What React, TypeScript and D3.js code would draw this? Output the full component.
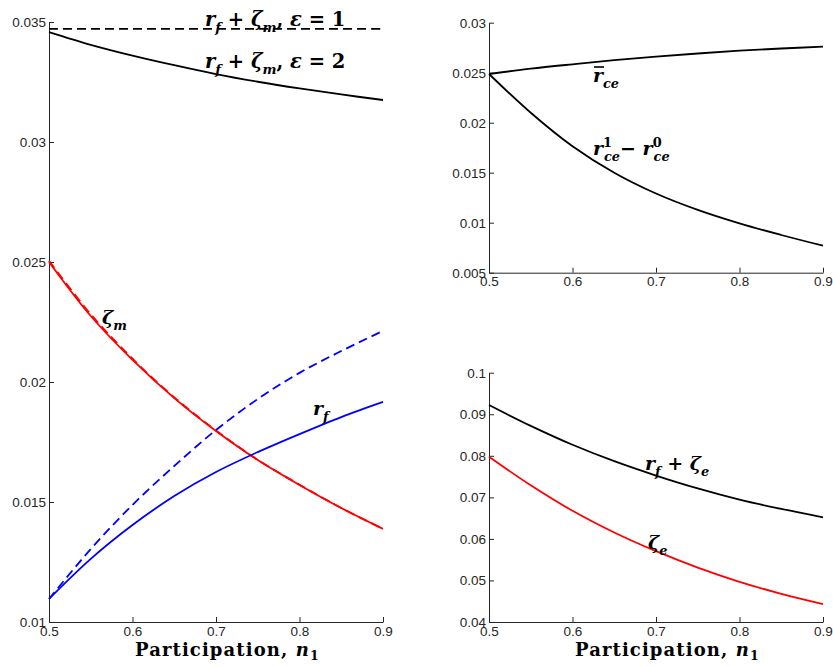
import React, {useEffect, useRef} from 'react'
import * as d3 from 'd3'

// participation grid
const n1 = [0.5, 0.55, 0.6, 0.65, 0.7, 0.75, 0.8, 0.85, 0.9]

// left panel
const rfZetaMEps1 = [0.03471, 0.03471, 0.03471, 0.03471, 0.03471, 0.03471, 0.03471, 0.03471, 0.03471]
const rfZetaMEps2 = [0.03458, 0.03405, 0.0336, 0.0332, 0.03283, 0.03251, 0.03223, 0.03198, 0.03175]
const zetaM = [0.025, 0.02275, 0.02092, 0.01933, 0.01796, 0.01675, 0.01571, 0.01475, 0.01388]
const zetaMEps1 = [0.02505, 0.02282, 0.02097, 0.01936, 0.01798, 0.01676, 0.01572, 0.01475, 0.01388]
const rf = [0.01096, 0.01263, 0.01404, 0.01525, 0.01625, 0.01708, 0.01783, 0.01854, 0.01917]
const rfEps1 = [0.01096, 0.01304, 0.01488, 0.0165, 0.018, 0.01929, 0.02038, 0.02129, 0.02213]

// right top
const rceBar = [0.02487, 0.0254, 0.02584, 0.02625, 0.0266, 0.02692, 0.0272, 0.02742, 0.0276]
const rceDiff = [0.02487, 0.021, 0.01765, 0.015, 0.01292, 0.01128, 0.00993, 0.00877, 0.0077]

// right bottom
const rfZetaE = [0.09223, 0.0872, 0.08265, 0.0787, 0.07525, 0.07215, 0.06945, 0.0672, 0.0652]
const zetaE = [0.07978, 0.0729, 0.06676, 0.06154, 0.05704, 0.05309, 0.04967, 0.04679, 0.04433]

const xTicks = [0.5, 0.6, 0.7, 0.8, 0.9]
const leftTicks = [0.01, 0.015, 0.02, 0.025, 0.03, 0.035]
const topTicks = [0.005, 0.01, 0.015, 0.02, 0.025, 0.03]
const bottomTicks = [0.04, 0.05, 0.06, 0.07, 0.08, 0.09, 0.1]

const AX = '#262626'
const TICK_FONT = '"Liberation Sans", Arial, sans-serif'
const MATH_FONT = '"DejaVu Serif", serif'

type Part = {t: string, i?: boolean, sub?: string, sup?: string}

// builds a math-ish label out of tspans, carrying baseline shifts to the next piece
function mathLabel(g: any, x: number, y: number, parts: Part[], size = 19) {
    const text = g.append('text')
        .attr('x', x).attr('y', y)
        .attr('font-family', MATH_FONT)
        .attr('font-weight', 'bold')
        .attr('font-size', size)
        .attr('fill', '#000')
    const small = size * 0.68
    let pending = 0
    parts.forEach(p => {
        text.append('tspan')
            .attr('font-style', p.i ? 'italic' : 'normal')
            .attr('dy', pending || null)
            .text(p.t)
        pending = 0
        if (p.sup) {
            text.append('tspan').attr('font-size', small).attr('dy', -size * 0.42).text(p.sup)
            text.append('tspan').attr('font-size', small).attr('font-style', 'italic')
                .attr('dx', -small * 0.62).attr('dy', size * 0.72).text(p.sub)
            pending = -size * 0.3
        } else if (p.sub) {
            text.append('tspan').attr('font-size', small).attr('font-style', 'italic')
                .attr('dy', size * 0.3).text(p.sub)
            pending = -size * 0.3
        }
    })
    return text
}

export default function App() {
    const svgRef = useRef(null)

    useEffect(() => {
        const svg = d3.select(svgRef.current)
        svg.selectAll('*').remove()

        const panels = [
            {x0: 49, x1: 383, y0: 622, y1: 22, dom: [0.01, 0.035], ticks: leftTicks},
            {x0: 489, x1: 823, y0: 272.7, y1: 22.7, dom: [0.005, 0.03], ticks: topTicks},
            {x0: 489, x1: 823, y0: 622, y1: 372.7, dom: [0.04, 0.1], ticks: bottomTicks},
        ]
        const scales = panels.map(p => ({
            x: d3.scaleLinear().domain([0.5, 0.9]).range([p.x0, p.x1]),
            y: d3.scaleLinear().domain(p.dom).range([p.y0, p.y1]),
        }))

        // axes, ticks pointing inward like matlab
        panels.forEach((p, k) => {
            const {x, y} = scales[k]
            const ga = svg.append('g').attr('transform', `translate(${p.x0},0)`)
                .call(d3.axisLeft(y).tickValues(p.ticks).tickSize(-5).tickSizeOuter(0).tickPadding(3)
                    .tickFormat((d: any) => String(d)))
            const gb = svg.append('g').attr('transform', `translate(0,${p.y0})`)
                .call(d3.axisBottom(x).tickValues(xTicks).tickSize(-5).tickSizeOuter(0).tickPadding(4)
                    .tickFormat((d: any) => String(d)))
            ;[ga, gb].forEach(g => {
                g.selectAll('path, line').attr('stroke', AX).attr('stroke-width', 1)
                g.selectAll('text').attr('fill', AX).attr('font-family', TICK_FONT).attr('font-size', 13.5)
            })
        })

        const draw = (k: number, vals: number[], color: string, dash?: string) => {
            const {x, y} = scales[k]
            const line = d3.line<number>()
                .x((_, i) => x(n1[i]))
                .y(d => y(d))
                .curve(d3.curveCatmullRom.alpha(0.5))
            svg.append('path')
                .attr('d', line(vals))
                .attr('fill', 'none')
                .attr('stroke', color)
                .attr('stroke-width', 1.8)
                .attr('stroke-dasharray', dash || null)
        }

        draw(0, rfZetaMEps1, '#000', '9,5')
        draw(0, rfZetaMEps2, '#000')
        draw(0, zetaMEps1, '#ff0000', '9,5')
        draw(0, zetaM, '#ff0000')
        draw(0, rfEps1, '#0000ff', '9,5')
        draw(0, rf, '#0000ff')
        draw(1, rceBar, '#000')
        draw(1, rceDiff, '#000')
        draw(2, rfZetaE, '#000')
        draw(2, zetaE, '#ff0000')

        const lab = svg.append('g')
        mathLabel(lab, 205, 26, [{t: 'r', i: true, sub: 'f'}, {t: ' + '}, {t: 'ζ', i: true, sub: 'm'}, {t: ', '}, {t: 'ε', i: true}, {t: ' = 1'}], 19.5)
        mathLabel(lab, 205, 68, [{t: 'r', i: true, sub: 'f'}, {t: ' + '}, {t: 'ζ', i: true, sub: 'm'}, {t: ', '}, {t: 'ε', i: true}, {t: ' = 2'}], 19.5)
        mathLabel(lab, 102, 324, [{t: 'ζ', i: true, sub: 'm'}])
        mathLabel(lab, 313, 415, [{t: 'r', i: true, sub: 'f'}])
        mathLabel(lab, 593, 82, [{t: 'r', i: true, sub: 'ce'}])
        lab.append('line').attr('x1', 594).attr('x2', 604).attr('y1', 67).attr('y2', 67)
            .attr('stroke', '#000').attr('stroke-width', 1.6)
        mathLabel(lab, 593, 155, [{t: 'r', i: true, sup: '1', sub: 'ce'}, {t: '\u2212 '}, {t: 'r', i: true, sup: '0', sub: 'ce'}])
        mathLabel(lab, 645, 470, [{t: 'r', i: true, sub: 'f'}, {t: ' + '}, {t: 'ζ', i: true, sub: 'e'}])
        mathLabel(lab, 648, 549, [{t: 'ζ', i: true, sub: 'e'}])

        // x labels
        ;[135, 575].forEach(x0 => {
            const t = svg.append('text').attr('x', x0).attr('y', 656)
                .attr('font-family', MATH_FONT).attr('font-weight', 'bold').attr('font-size', 18)
                .attr('letter-spacing', 1.1)
            t.append('tspan').text('Participation, ')
            t.append('tspan').attr('font-style', 'italic').text('n')
            t.append('tspan').attr('font-size', 12.5).attr('dy', 4).text('1')
        })
    })

    return (
        <div style={{position: 'absolute', left: 0, top: 0}}>
            <svg ref={svgRef} width={833} height={667} style={{display: 'block', background: '#fff'}} />
        </div>
    )
}
